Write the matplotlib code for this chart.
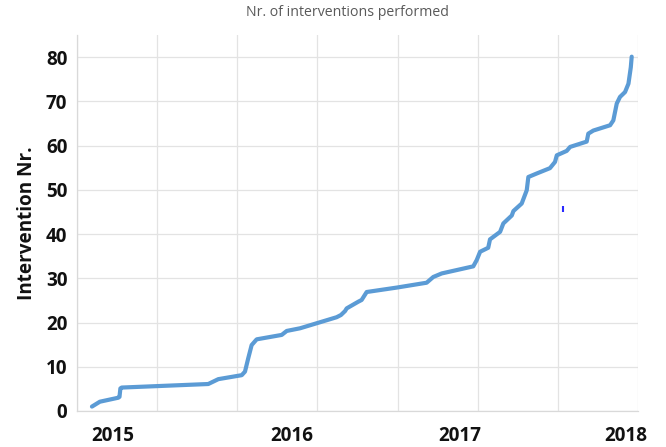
import matplotlib
matplotlib.use("Agg")
import matplotlib.pyplot as plt
import numpy as np

# cumulative number of interventions (x in fractional years)
years = [2015.000, 2015.044, 2015.146, 2015.153, 2015.158, 2015.165, 2015.646, 2015.702,
         2015.832, 2015.850, 2015.868, 2015.887, 2015.915, 2016.054, 2016.082, 2016.156,
         2016.359, 2016.383, 2016.406, 2016.415, 2016.479, 2016.498, 2016.526, 2016.693,
         2016.859, 2016.896, 2016.943, 2017.118, 2017.137, 2017.156, 2017.201, 2017.211,
         2017.267, 2017.285, 2017.332, 2017.341, 2017.387, 2017.415, 2017.424, 2017.471,
         2017.544, 2017.572, 2017.582, 2017.637, 2017.656, 2017.748, 2017.757, 2017.785,
         2017.878, 2017.896, 2017.915, 2017.933, 2017.961, 2017.980, 2017.993, 2017.998]
count = [1.0, 2.1, 3.0, 3.2, 5.1, 5.3, 6.1, 7.2,
         8.1, 8.9, 11.9, 14.9, 16.2, 17.2, 18.1, 18.7,
         21.2, 21.7, 22.6, 23.2, 24.7, 25.1, 26.9, 27.9,
         29.0, 30.3, 31.1, 32.7, 34.1, 36.0, 36.9, 38.8,
         40.5, 42.4, 44.2, 45.2, 46.9, 49.9, 52.9, 53.7,
         54.9, 56.3, 57.8, 58.8, 59.7, 60.9, 62.7, 63.4,
         64.6, 65.7, 69.5, 71.0, 72.1, 74.0, 77.7, 80.1]

year_labels = ["2015", "2016", "2017", "2018"]
year_label_pos = [2015.117, 2016.108, 2017.044, 2017.967]
y_ticks = [0, 10, 20, 30, 40, 50, 60, 70, 80]

# stray blue mark present in the original picture
stray_x = [2017.617]
stray_y = [45.6]

fig = plt.figure(figsize=(6.66, 4.47), dpi=100)
ax = fig.add_axes([77/666, 1 - 411/447, (638 - 77)/666, (411 - 35)/447])

xmin, xmax = 2014.917, 2018.033
ax.set_xlim(xmin, xmax)
ax.set_ylim(0, 85)

ax.plot(years, count, color="#5b9bd5", lw=3.0, solid_capstyle="round", solid_joinstyle="round", zorder=3)
ax.plot(stray_x, stray_y, marker="|", color="#2a2aff", ms=5, mew=1.5, ls="none", zorder=3)

# grid
ax.set_xticks(np.linspace(xmin, xmax, 8), minor=True)
ax.set_yticks(y_ticks)
ax.grid(True, which="minor", axis="x", color="#e3e3e3", lw=0.9)
ax.grid(True, which="major", axis="y", color="#e3e3e3", lw=0.9)
ax.set_axisbelow(True)

ax.set_xticks(year_label_pos)
ax.set_xticklabels(year_labels)
ax.tick_params(axis="both", which="both", length=0)
ax.tick_params(axis="x", pad=11)
ax.tick_params(axis="y", pad=7)
for lab in ax.get_xticklabels() + ax.get_yticklabels():
    lab.set_fontfamily("Open Sans")
    lab.set_fontweight("bold")
    lab.set_fontsize(13.6)
    lab.set_color("#111111")

for s in ["top", "right"]:
    ax.spines[s].set_visible(False)
for s in ["left", "bottom"]:
    ax.spines[s].set_color("#d9d9d9")
    ax.spines[s].set_linewidth(0.9)

ax.set_ylabel("Intervention Nr.", fontfamily="Open Sans", fontweight="bold", fontsize=13.6,
              color="#111111", labelpad=6)

fig.text(347/666, 1 - 13/447, "Nr. of interventions performed", ha="center", va="center",
         fontsize=10.2, color="#595959", fontfamily="Open Sans")

fig.savefig("out.png", dpi=100, facecolor="white")
